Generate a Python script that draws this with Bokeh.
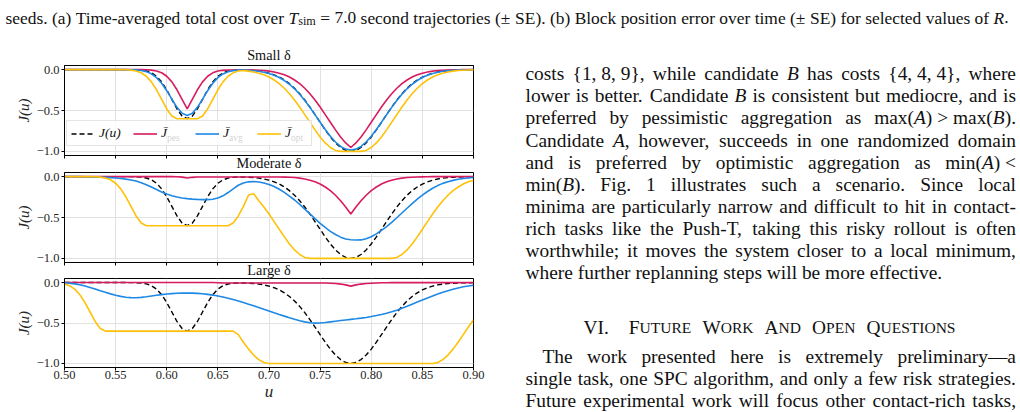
from bokeh.plotting import figure
from bokeh.layouts import column, row
from bokeh.models import (Range1d, FixedTicker, CustomJSTickFormatter, Legend,
                          LegendItem, Label, ColumnDataSource, CustomLabelingPolicy,
                          LinearAxis)
from bokeh.core.properties import value
from bokeh.embed import file_html
from bokeh.resources import INLINE

# ---------------------------------------------------------------- data
U = [0.500, 0.505, 0.510, 0.515, 0.520, 0.525, 0.530, 0.535, 0.540, 0.545,
     0.550, 0.555, 0.560, 0.565, 0.570, 0.575, 0.580, 0.585, 0.590, 0.595,
     0.600, 0.605, 0.610, 0.615, 0.620, 0.625, 0.630, 0.635, 0.640, 0.645,
     0.650, 0.655, 0.660, 0.665, 0.670, 0.675, 0.680, 0.685, 0.690, 0.695,
     0.700, 0.705, 0.710, 0.715, 0.720, 0.725, 0.730, 0.735, 0.740, 0.745,
     0.750, 0.755, 0.760, 0.765, 0.770, 0.775, 0.780, 0.785, 0.790, 0.795,
     0.800, 0.805, 0.810, 0.815, 0.820, 0.825, 0.830, 0.835, 0.840, 0.845,
     0.850, 0.855, 0.860, 0.865, 0.870, 0.875, 0.880, 0.885, 0.890, 0.895,
     0.900]

# true cost J(u)
J_TRUE = [0, 0, 0, 0, 0, 0, 0, 0, 0, 0,
          0.000, 0.000, 0.000, -0.001, -0.002, -0.007, -0.017, -0.039, -0.081, -0.150,
          -0.247, -0.364, -0.481, -0.568, -0.600, -0.568, -0.481, -0.364, -0.247, -0.150,
          -0.081, -0.040, -0.018, -0.009, -0.005, -0.006, -0.008, -0.012, -0.019, -0.029,
          -0.044, -0.064, -0.091, -0.127, -0.172, -0.228, -0.295, -0.372, -0.458, -0.550,
          -0.644, -0.737, -0.823, -0.896, -0.952, -0.988, -1.000, -0.988, -0.952, -0.896,
          -0.823, -0.737, -0.644, -0.550, -0.458, -0.372, -0.295, -0.228, -0.172, -0.127,
          -0.091, -0.064, -0.044, -0.029, -0.019, -0.012, -0.008, -0.005, -0.003, -0.002,
          -0.001]

# small delta
SMALL_PES = [0, 0, 0, 0, 0, 0, 0, 0, 0, 0,
             0, 0, 0, 0, 0, -0.001, -0.002, -0.007, -0.017, -0.039,
             -0.081, -0.150, -0.247, -0.364, -0.481, -0.364, -0.247, -0.150, -0.081, -0.040,
             -0.018, -0.009, -0.005, -0.005, -0.005, -0.005, -0.005, -0.006, -0.008, -0.012,
             -0.019, -0.029, -0.044, -0.064, -0.091, -0.127, -0.172, -0.228, -0.295, -0.372,
             -0.458, -0.550, -0.644, -0.737, -0.823, -0.896, -0.952, -0.896, -0.823, -0.737,
             -0.644, -0.550, -0.458, -0.372, -0.295, -0.228, -0.172, -0.127, -0.091, -0.064,
             -0.044, -0.029, -0.019, -0.012, -0.008, -0.005, -0.003, -0.002, -0.001, -0.001,
             0.000]
SMALL_AVG = [0, 0, 0, 0, 0, 0, 0, 0, 0, 0,
             0, 0, -0.001, -0.002, -0.004, -0.011, -0.025, -0.052, -0.098, -0.167,
             -0.258, -0.362, -0.461, -0.534, -0.560, -0.534, -0.461, -0.362, -0.258, -0.167,
             -0.098, -0.053, -0.026, -0.013, -0.007, -0.007, -0.010, -0.014, -0.021, -0.032,
             -0.048, -0.069, -0.097, -0.134, -0.179, -0.235, -0.302, -0.378, -0.462, -0.551,
             -0.643, -0.732, -0.815, -0.885, -0.939, -0.972, -0.984, -0.972, -0.939, -0.885,
             -0.815, -0.732, -0.643, -0.551, -0.462, -0.378, -0.302, -0.235, -0.179, -0.134,
             -0.097, -0.069, -0.048, -0.032, -0.021, -0.014, -0.009, -0.005, -0.003, -0.002,
             -0.001]
SMALL_OPT = [0, 0, 0, 0, 0, 0, 0, 0, 0, 0,
             0, -0.001, -0.002, -0.007, -0.017, -0.039, -0.081, -0.150, -0.247, -0.364,
             -0.481, -0.568, -0.600, -0.600, -0.600, -0.600, -0.600, -0.568, -0.481, -0.364,
             -0.247, -0.150, -0.081, -0.040, -0.018, -0.012, -0.019, -0.029, -0.044, -0.064,
             -0.091, -0.127, -0.172, -0.228, -0.295, -0.372, -0.458, -0.550, -0.644, -0.737,
             -0.823, -0.896, -0.952, -0.988, -1.000, -1.000, -1.000, -1.000, -1.000, -0.988,
             -0.952, -0.896, -0.823, -0.737, -0.644, -0.550, -0.458, -0.372, -0.295, -0.228,
             -0.172, -0.127, -0.091, -0.064, -0.044, -0.029, -0.019, -0.012, -0.008, -0.005,
             -0.003]

# moderate delta
MOD_PES = [0, 0, 0, 0, 0, 0, 0, 0, 0, 0,
           0, 0, 0, 0, 0, 0, 0, 0, 0, 0,
           0.000, -0.001, -0.002, -0.007, -0.017, -0.009, -0.005, -0.005, -0.005, -0.005,
           -0.005, -0.005, -0.005, -0.005, -0.005, -0.005, -0.005, -0.005, -0.005, -0.005,
           -0.005, -0.005, -0.005, -0.006, -0.008, -0.012, -0.019, -0.029, -0.044, -0.064,
           -0.091, -0.127, -0.172, -0.228, -0.295, -0.372, -0.458, -0.372, -0.295, -0.228,
           -0.172, -0.127, -0.091, -0.064, -0.044, -0.029, -0.019, -0.012, -0.008, -0.005,
           -0.003, -0.002, -0.001, -0.001, 0, 0, 0, 0, 0, 0,
           0]
MOD_AVG = [0.000, 0.000, -0.001, -0.001, -0.002, -0.003, -0.004, -0.006, -0.009, -0.013,
           -0.018, -0.024, -0.031, -0.041, -0.055, -0.075, -0.100, -0.128, -0.158, -0.188,
           -0.214, -0.235, -0.250, -0.261, -0.269, -0.275, -0.279, -0.281, -0.281, -0.276,
           -0.262, -0.235, -0.195, -0.150, -0.106, -0.078, -0.064, -0.060, -0.066, -0.078,
           -0.097, -0.122, -0.155, -0.193, -0.238, -0.286, -0.340, -0.397, -0.455, -0.514,
           -0.571, -0.622, -0.669, -0.708, -0.740, -0.762, -0.772, -0.775, -0.774, -0.760,
           -0.735, -0.700, -0.658, -0.612, -0.560, -0.503, -0.445, -0.387, -0.330, -0.276,
           -0.226, -0.182, -0.143, -0.110, -0.083, -0.062, -0.046, -0.033, -0.024, -0.017,
           -0.012]
MOD_OPT = [0, 0, 0, 0, 0, -0.001, -0.002, -0.007, -0.017, -0.039,
           -0.081, -0.150, -0.247, -0.364, -0.481, -0.568, -0.600, -0.600, -0.600, -0.600,
           -0.600, -0.600, -0.600, -0.600, -0.600, -0.600, -0.600, -0.600, -0.600, -0.600,
           -0.600, -0.600, -0.600, -0.568, -0.481, -0.364, -0.225, -0.210, -0.295, -0.372,
           -0.458, -0.550, -0.644, -0.737, -0.823, -0.896, -0.952, -0.988, -1.000, -1.000,
           -1.000, -1.000, -1.000, -1.000, -1.000, -1.000, -1.000, -1.000, -1.000, -1.000,
           -1.000, -1.000, -1.000, -1.000, -1.000, -0.988, -0.952, -0.896, -0.823, -0.737,
           -0.644, -0.550, -0.458, -0.372, -0.295, -0.228, -0.172, -0.127, -0.091, -0.064,
           -0.044]

# large delta
LARGE_PES = [0, 0, 0, 0, 0, 0, 0, 0, 0, 0,
             0, 0, 0, 0, 0, 0, 0, 0, 0, 0,
             0, 0, 0, 0, 0, 0, 0, 0, 0, 0,
             -0.002, -0.005, -0.005, -0.005, -0.005, -0.005, -0.005, -0.005, -0.005, -0.005,
             -0.005, -0.005, -0.005, -0.005, -0.005, -0.005, -0.005, -0.005, -0.005, -0.005,
             -0.005, -0.006, -0.008, -0.012, -0.019, -0.029, -0.044, -0.029, -0.019, -0.012,
             -0.008, -0.005, -0.003, -0.002, -0.001, -0.001, -0.001, -0.001, -0.001, -0.001,
             -0.001, -0.001, -0.001, -0.001, -0.001, -0.001, -0.001, -0.001, -0.001, -0.001,
             -0.001]
LARGE_AVG = [-0.003, -0.008, -0.016, -0.027, -0.042, -0.060, -0.080, -0.101, -0.121, -0.140,
             -0.157, -0.171, -0.181, -0.186, -0.187, -0.183, -0.175, -0.166, -0.157, -0.149,
             -0.142, -0.137, -0.133, -0.131, -0.130, -0.131, -0.134, -0.139, -0.146, -0.155,
             -0.166, -0.179, -0.194, -0.210, -0.228, -0.247, -0.267, -0.288, -0.309, -0.331,
             -0.352, -0.374, -0.395, -0.415, -0.435, -0.454, -0.471, -0.486, -0.497, -0.502,
             -0.500, -0.494, -0.486, -0.478, -0.470, -0.462, -0.455, -0.448, -0.440, -0.431,
             -0.420, -0.408, -0.395, -0.380, -0.362, -0.341, -0.318, -0.293, -0.267, -0.241,
             -0.215, -0.190, -0.166, -0.143, -0.121, -0.101, -0.083, -0.067, -0.053, -0.042,
             -0.033]
LARGE_OPT = [-0.017, -0.039, -0.081, -0.150, -0.247, -0.364, -0.481, -0.568, -0.600, -0.600,
             -0.600, -0.600, -0.600, -0.600, -0.600, -0.600, -0.600, -0.600, -0.600, -0.600,
             -0.600, -0.600, -0.600, -0.600, -0.600, -0.600, -0.600, -0.600, -0.600, -0.600,
             -0.600, -0.600, -0.600, -0.600, -0.644, -0.737, -0.823, -0.896, -0.952, -0.988,
             -1.000, -1.000, -1.000, -1.000, -1.000, -1.000, -1.000, -1.000, -1.000, -1.000,
             -1.000, -1.000, -1.000, -1.000, -1.000, -1.000, -1.000, -1.000, -1.000, -1.000,
             -1.000, -1.000, -1.000, -1.000, -1.000, -1.000, -1.000, -1.000, -1.000, -1.000,
             -1.000, -1.000, -1.000, -0.988, -0.952, -0.896, -0.823, -0.737, -0.644, -0.550,
             -0.458]

PANEL_TITLES = ["Small δ", "Moderate δ", "Large δ"]
LEGEND_LABELS = ["J(u)", "J\u0304", "J\u0304", "J\u0304"]
LEGEND_SUBS = ["pes", "avg", "opt"]
X_TICKS = [0.50, 0.55, 0.60, 0.65, 0.70, 0.75, 0.80, 0.85, 0.90]
Y_TICKS = [-1.0, -0.5, 0.0]

for arr in (J_TRUE, SMALL_PES, SMALL_AVG, SMALL_OPT, MOD_PES, MOD_AVG, MOD_OPT,
            LARGE_PES, LARGE_AVG, LARGE_OPT):
    assert len(arr) == len(U)

# ---------------------------------------------------------------- text
CAPTION = ["seeds.", "(a)", "Time-averaged", "total", "cost", "over", "|T|~sim~", "=",
           "7.0", "second", "trajectories", "(±", "SE).", "(b)", "Block", "position",
           "error", "over", "time", "(±", "SE)", "for", "selected", "values", "of", "|R|."]

PARA1 = [
    ["costs", "{1, 8, 9},", "while", "candidate", "|B|", "has", "costs", "{4, 4, 4},", "where"],
    ["lower", "is", "better.", "Candidate", "|B|", "is", "consistent", "but", "mediocre,", "and", "is"],
    ["preferred", "by", "pessimistic", "aggregation", "as", "max(|A|) > max(|B|)."],
    ["Candidate", "|A|,", "however,", "succeeds", "in", "one", "randomized", "domain"],
    ["and", "is", "preferred", "by", "optimistic", "aggregation", "as", "min(|A|) <"],
    ["min(|B|).", "Fig.", "1", "illustrates", "such", "a", "scenario.", "Since", "local"],
    ["minima", "are", "particularly", "narrow", "and", "difficult", "to", "hit", "in", "contact-"],
    ["rich", "tasks", "like", "the", "Push-T,", "taking", "this", "risky", "rollout", "is", "often"],
    ["worthwhile;", "it", "moves", "the", "system", "closer", "to", "a", "local", "minimum,"],
    ["where", "further", "replanning", "steps", "will", "be", "more", "effective."],
]
HEADING = ["VI.", "F^UTURE^", "W^ORK^", "A^ND^", "O^PEN^", "Q^UESTIONS^"]
PARA2 = [
    ["The", "work", "presented", "here", "is", "extremely", "preliminary—a"],
    ["single", "task,", "one", "SPC", "algorithm,", "and", "only", "a", "few", "risk", "strategies."],
    ["Future", "experimental", "work", "will", "focus", "other", "contact-rich", "tasks,"],
]

# ---------------------------------------------------------------- styling
SERIF = "Liberation Serif"
C_PES, C_AVG, C_OPT = "#D81B60", "#1E88E5", "#FFC107"
TEXT_COLOR = "#111111"
AXIS_TEXT = "#262626"

PAGE_H = 412
CAP_H = 28
LEFT_W, RIGHT_W = 510, 510
FRAME_W = 409
BORDER_L, BORDER_R = 64, 37
X0, X1 = 0.5, 0.9
Y0, Y1 = -1.05, 0.05
PX_U = FRAME_W / (X1 - X0)
# per panel: (overlap with the panel above, top border, frame height, bottom border)
STACK = [(0, 37, 90, 19), (-7, 5, 90, 19), (-8, 5, 89, 45)]
TITLE_SIZE = "14.3px"
TITLE_STANDOFF = -4

# Times-compatible advance widths (1/1000 em) for laying out justified text
ROMAN = dict(zip("abcdefghijklmnopqrstuvwxyz",
                 [444, 500, 444, 500, 444, 333, 500, 500, 278, 278, 500, 278, 778,
                  500, 500, 500, 500, 333, 389, 278, 500, 500, 722, 500, 500, 444]))
ROMAN.update(zip("ABCDEFGHIJKLMNOPQRSTUVWXYZ",
                 [722, 667, 667, 722, 611, 556, 722, 722, 333, 389, 722, 611, 889,
                  722, 722, 556, 722, 667, 556, 611, 722, 722, 944, 722, 722, 611]))
ROMAN.update({c: 500 for c in "0123456789"})
ROMAN.update({" ": 250, ",": 250, ".": 250, ";": 278, ":": 278, "-": 333, "(": 333,
              ")": 333, "{": 480, "}": 480, "<": 564, ">": 564, "=": 564, "±": 564,
              "—": 1000})
ITALIC = dict(ROMAN)
ITALIC.update({"A": 611, "B": 611, "R": 611, "T": 556, "J": 444})

SUB_SCALE, SC_SCALE = 0.7, 0.8


def segments(token):
    """Split a token on markup: | italic, ~ subscript, ^ small caps."""
    out, buf, italic, kind = [], "", False, "n"
    for ch in token:
        if ch in "|~^":
            if buf:
                out.append((buf, italic, kind))
            buf = ""
            if ch == "|":
                italic = not italic
            elif ch == "~":
                kind = "n" if kind == "sub" else "sub"
            else:
                kind = "n" if kind == "sc" else "sc"
        else:
            buf += ch
    if buf:
        out.append((buf, italic, kind))
    return out


def seg_size(kind, size):
    return size * (SUB_SCALE if kind == "sub" else SC_SCALE if kind == "sc" else 1.0)


def seg_width(text, italic, size):
    table = ITALIC if italic else ROMAN
    return sum(table.get(c, 500) for c in text) * size / 1000.0


def token_width(token, size):
    return sum(seg_width(t, it, seg_size(k, size)) for t, it, k in segments(token))


def lay_line(out, tokens, x0, x1, y, size, justify=True, weights=None):
    widths = [token_width(t, size) for t in tokens]
    n = len(tokens)
    if justify and n > 1:
        weights = weights or [1.0] * (n - 1)
        unit = ((x1 - x0) - sum(widths)) / sum(weights)
        gaps = [unit * w for w in weights]
    else:
        gaps = [0.25 * size] * (n - 1)
    x = x0
    for i, tok in enumerate(tokens):
        cx = x
        for text, italic, kind in segments(tok):
            s = seg_size(kind, size)
            out["x"].append(cx)
            out["y"].append(y + (0.22 * size if kind == "sub" else 0.0))
            out["text"].append(text.upper() if kind == "sc" else text)
            out["style"].append("italic" if italic else "normal")
            out["size"].append("%.2fpx" % s)
            cx += seg_width(text, italic, s)
        x += widths[i] + (gaps[i] if i < n - 1 else 0.0)


def new_text_store():
    return {"x": [], "y": [], "text": [], "style": [], "size": []}


def text_canvas(w, h, store):
    p = figure(width=w, height=h, x_range=Range1d(0, w), y_range=Range1d(h, 0),
               min_border=0, x_axis_type=None, y_axis_type=None,
               toolbar_location=None, output_backend="svg",
               outline_line_color=None, background_fill_color="white",
               border_fill_color="white")
    p.grid.visible = False
    p.text(x="x", y="y", text="text", source=ColumnDataSource(store),
           text_font=value(SERIF), text_font_size="size", text_font_style="style",
           text_baseline="alphabetic", text_align="left", text_color=TEXT_COLOR)
    return p


def style_title_label(ax, text, standoff):
    ax.axis_label = text
    ax.axis_label_text_font = SERIF
    ax.axis_label_text_font_style = "normal"
    ax.axis_label_text_font_size = TITLE_SIZE
    ax.axis_label_text_color = TEXT_COLOR
    ax.axis_label_standoff = standoff


def make_panel(idx, pes, avg, opt):
    overlap, top, frame_h, bottom = STACK[idx]
    last = idx == 2
    px_j = frame_h / (Y1 - Y0)
    p = figure(frame_width=FRAME_W, frame_height=frame_h,
               x_range=Range1d(X0, X1), y_range=Range1d(Y0, Y1),
               min_border_left=BORDER_L, min_border_right=BORDER_R,
               min_border_top=top, min_border_bottom=bottom,
               margin=(overlap, 0, 0, 0),
               output_backend="svg", toolbar_location=None,
               background_fill_color="white", border_fill_color="white",
               border_fill_alpha=(1.0 if idx == 0 else 0.0),
               outline_line_color="black", outline_line_width=1)

    p.grid.grid_line_color = "#e2e2e2"
    p.grid.grid_line_width = 1

    xa, ya = p.xaxis[0], p.yaxis[0]
    xa.ticker = FixedTicker(ticks=X_TICKS)
    ya.ticker = FixedTicker(ticks=Y_TICKS)
    xa.formatter = CustomJSTickFormatter(code="return tick.toFixed(2);")
    ya.formatter = CustomJSTickFormatter(
        code="return (tick < 0 ? '\u2212' : '') + Math.abs(tick).toFixed(1);")
    for ax in (xa, ya):
        ax.major_tick_out = 3
        ax.major_tick_in = 0
        ax.minor_tick_line_color = None
        ax.axis_line_color = "black"
        ax.major_tick_line_color = "black"
        ax.major_label_text_font = SERIF
        ax.major_label_text_font_size = "12.5px"
        ax.major_label_text_color = AXIS_TEXT
        ax.major_label_standoff = 2
    ya.axis_label = "J(u)"
    ya.axis_label_text_font = SERIF
    ya.axis_label_text_font_style = "italic"
    ya.axis_label_text_font_size = "15px"
    ya.axis_label_text_color = AXIS_TEXT
    ya.axis_label_standoff = 2

    if last:
        xa.major_label_standoff = 0
        xa.axis_label = "u"
        xa.axis_label_text_font = SERIF
        xa.axis_label_text_font_style = "italic"
        xa.axis_label_text_font_size = "17px"
        xa.axis_label_text_color = AXIS_TEXT
        xa.axis_label_standoff = 0
    else:
        # upper panels share the bottom axis: keep the ticks, drop the numbers;
        # the caption of the panel below sits in this margin
        xa.major_label_text_font_size = "0px"
        xa.major_label_standoff = 0
        xa.major_label_policy = CustomLabelingPolicy(
            code="for (const i of indices) indices.unset(i)")
        style_title_label(xa, PANEL_TITLES[idx + 1], TITLE_STANDOFF)

    if idx == 0:
        # a bare axis along the top edge carries the first panel caption
        top_axis = LinearAxis(ticker=FixedTicker(ticks=[]), major_tick_out=0,
                              major_tick_in=0, minor_tick_line_color=None,
                              major_label_text_font_size="0px",
                              major_label_standoff=0, axis_line_color="black")
        style_title_label(top_axis, PANEL_TITLES[0], 3)
        p.add_layout(top_axis, "above")

    r_true = p.line(U, J_TRUE, line_color="black", line_width=1.4, line_dash="5 3")
    r_pes = p.line(U, pes, line_color=C_PES, line_width=1.6)
    r_avg = p.line(U, avg, line_color=C_AVG, line_width=1.6)
    r_opt = p.line(U, opt, line_color=C_OPT, line_width=1.6)

    if idx == 0:
        pad, spacing, gw, stand, lw = 4, 12, 24, 4, 22
        loc = (2, 9)
        legend = Legend(
            items=[LegendItem(label=lab, renderers=[r])
                   for lab, r in zip(LEGEND_LABELS, (r_true, r_pes, r_avg, r_opt))],
            location=loc, orientation="horizontal", padding=pad, spacing=spacing,
            glyph_width=gw, glyph_height=13, label_standoff=stand, label_width=lw,
            label_height=13, margin=0, label_text_font=SERIF,
            label_text_font_style="italic", label_text_font_size="13.5px",
            label_text_color=TEXT_COLOR, border_line_color="#cccccc",
            background_fill_color="white", background_fill_alpha=0.8)
        p.add_layout(legend)
        for k, sub in enumerate(LEGEND_SUBS, start=1):
            sx = loc[0] + pad + k * (gw + stand + lw + spacing) + gw + stand + 6.5
            p.add_layout(Label(x=X0 + sx / PX_U, y=Y1 - 72.0 / px_j, text=sub,
                               text_align="left", text_baseline="alphabetic",
                               text_font=SERIF, text_font_size="9.5px",
                               text_color=TEXT_COLOR))
    return p


panels = [make_panel(0, SMALL_PES, SMALL_AVG, SMALL_OPT),
          make_panel(1, MOD_PES, MOD_AVG, MOD_OPT),
          make_panel(2, LARGE_PES, LARGE_AVG, LARGE_OPT)]
left_col = column(*panels)

# caption strip across the top
cap_store = new_text_store()
lay_line(cap_store, CAPTION, 5, 1008, 17, 17.4, justify=True)
caption = text_canvas(1020, CAP_H, cap_store)

# right-hand column of body text
BODY = 19.4
LEAD = 22.08
TX0, TX1 = 15, 505.5
body_store = new_text_store()
for i, line in enumerate(PARA1):
    lay_line(body_store, line, TX0, TX1, 73.3 - CAP_H + LEAD * i, BODY,
             justify=(i < len(PARA1) - 1))
lay_line(body_store, HEADING, 73, 445, 326.7 - CAP_H, BODY, justify=True,
         weights=[1.8, 1, 1, 1, 1])
for i, line in enumerate(PARA2):
    lay_line(body_store, line, TX0 + (17 if i == 0 else 0), TX1,
             356 - CAP_H + LEAD * i, BODY, justify=True)
body = text_canvas(RIGHT_W, PAGE_H - CAP_H, body_store)

page = column(caption, row(left_col, body))

open("out.html", "w").write(file_html(page, INLINE))
